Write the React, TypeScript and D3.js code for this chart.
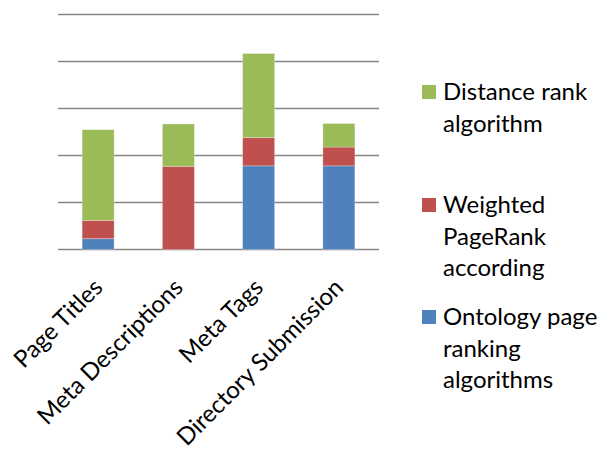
import React from "react";
import * as d3 from "d3";

const categories = ["Page Titles", "Meta Descriptions", "Meta Tags", "Directory Submission"];
const ontologyValues = [0.23, 0, 1.78, 1.78];
const weightedValues = [0.39, 1.77, 0.6, 0.4];
const distanceValues = [1.93, 0.9, 1.79, 0.5];
const yTicks = [0, 1, 2, 3, 4, 5];

const seriesKeys = ["ontology", "weighted", "distance"];
const seriesColors: Record<string, string> = {
  ontology: "#4F81BD",
  weighted: "#C0504D",
  distance: "#9BBB59",
};
const legendItems = [
  { key: "distance", lines: ["Distance rank", "algorithm"] },
  { key: "weighted", lines: ["Weighted", "PageRank", "according"] },
  { key: "ontology", lines: ["Ontology page", "ranking", "algorithms"] },
];

const W = 601;
const H = 452;
const FONT = "Lato, 'Open Sans', sans-serif";

export default function App() {
  const rows = categories.map((c, i) => ({
    category: c,
    ontology: ontologyValues[i],
    weighted: weightedValues[i],
    distance: distanceValues[i],
  }));
  const stacked = d3.stack<any>().keys(seriesKeys)(rows);

  const y = d3.scaleLinear().domain([0, 5]).range([249.5, 14.5]);
  const band = d3.scaleBand<string>().domain(categories).range([58, 379]);

  const legendStarts = [100, 213, 325];
  const lineGap = 31.7;

  return (
    <div style={{ position: "absolute", left: 0, top: 0 }}>
      <svg width={W} height={H} style={{ display: "block", background: "#fff" }}>
        <g>
          {yTicks.map((t) => (
            <line key={t} x1={58} x2={379} y1={y(t)} y2={y(t)} stroke="#868686" strokeWidth={1.4} />
          ))}
        </g>
        <g>
          {stacked.map((s) => (
            <g key={s.key} fill={seriesColors[s.key]}>
              {s.map((d, i) => {
                const h = y(d[0]) - y(d[1]);
                if (h <= 0) return null;
                const cx = (band(categories[i]) as number) + band.bandwidth() / 2;
                return (
                  <rect
                    key={i}
                    x={cx - 16}
                    width={32}
                    y={y(d[1])}
                    height={h}
                    stroke="#ffffff"
                    strokeOpacity={0.35}
                    strokeWidth={0.8}
                  />
                );
              })}
            </g>
          ))}
        </g>
        <g fontFamily={FONT} fontSize={24} fill="#000">
          {categories.map((c) => {
            const cx = (band(c) as number) + band.bandwidth() / 2;
            return (
              <text
                key={c}
                transform={`translate(${cx},${283}) rotate(-45)`}
                textAnchor="end"
                dy="0.35em"
              >
                {c}
              </text>
            );
          })}
        </g>
        <g fontFamily={FONT} fontSize={24} fill="#000">
          {legendItems.map((item, k) => (
            <g key={item.key}>
              <rect x={422} y={legendStarts[k] - 15} width={14} height={14} fill={seriesColors[item.key]} />
              {item.lines.map((ln, j) => (
                <text key={j} x={443} y={legendStarts[k] + j * lineGap}>
                  {ln}
                </text>
              ))}
            </g>
          ))}
        </g>
      </svg>
    </div>
  );
}
